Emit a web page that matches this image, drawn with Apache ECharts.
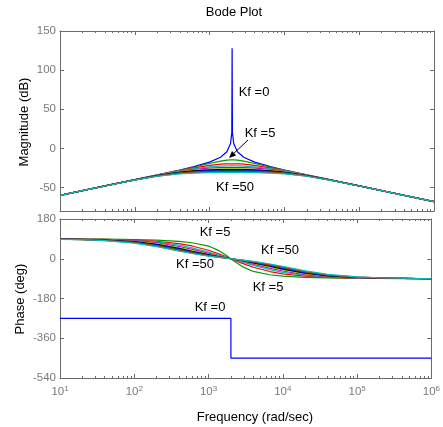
<!DOCTYPE html>
<html><head><meta charset="utf-8">
<script src="https://cdn.jsdelivr.net/npm/echarts@6/dist/echarts.min.js"></script>
<style>html,body{margin:0;padding:0;background:#fff}#c{width:443px;height:427px}</style>
</head><body><div id="c"></div>
<script>
// ---------- data ----------
const freqs = [10,20,40,100,200,400,600,1000,1400,1700,2000,2353,2857,4000,6667,10000,20000,40000,100000,200000,400000,1000000];
const freqsKf0 = [10,20,40,100,200,400,600,1000,1400,1700,1900,1980,2000,2020,2105,2353,2857,4000,6667,10000,20000,40000,100000,200000,400000,1000000];
const magKf0 = [-60,-54,-48,-40,-33.9,-27.6,-23.6,-17.5,-11.3,-4.3,5.8,19.9,128,19.9,5.8,-4.3,-11.3,-17.5,-23.6,-27.6,-33.9,-40,-48,-54,-60,-68];
const phaseFreqsKf0 = [10,2000,2000,1000000];
const phaseKf0 = [-270,-270,-450,-450];

const kfLabels = ['Kf =5','Kf =10','Kf =15','Kf =20','Kf =25','Kf =30','Kf =35','Kf =40','Kf =45','Kf =50'];
const magKf5  = [-60.0,-54.0,-48.0,-40.0,-34.0,-27.8,-24.1,-19.3,-16.2,-14.9,-14.5,-14.9,-16.2,-19.3,-24.1,-27.8,-34.0,-40.0,-48.0,-54.0,-60.0,-68.0];
const magKf10 = [-60.0,-54.0,-48.0,-40.0,-34.1,-28.3,-25.1,-21.7,-20.2,-19.7,-19.6,-19.7,-20.2,-21.7,-25.1,-28.3,-34.1,-40.0,-48.0,-54.0,-60.0,-68.0];
const magKf15 = [-60.0,-54.0,-48.0,-40.1,-34.2,-28.7,-26.0,-23.6,-22.6,-22.4,-22.3,-22.4,-22.6,-23.6,-26.0,-28.7,-34.2,-40.1,-48.0,-54.0,-60.0,-68.0];
const magKf20 = [-60.0,-54.0,-48.0,-40.1,-34.4,-29.3,-27.0,-25.2,-24.6,-24.4,-24.4,-24.4,-24.6,-25.2,-27.0,-29.3,-34.4,-40.1,-48.0,-54.0,-60.0,-68.0];
const magKf25 = [-60.0,-54.0,-48.0,-40.2,-34.5,-29.8,-27.9,-26.4,-26.0,-25.9,-25.8,-25.9,-26.0,-26.4,-27.9,-29.8,-34.5,-40.2,-48.0,-54.0,-60.0,-68.0];
const magKf30 = [-60.0,-54.0,-48.0,-40.2,-34.7,-30.4,-28.7,-27.5,-27.2,-27.1,-27.1,-27.1,-27.2,-27.5,-28.7,-30.4,-34.7,-40.2,-48.0,-54.0,-60.0,-68.0];
const magKf35 = [-60.0,-54.0,-48.0,-40.3,-34.9,-30.9,-29.5,-28.5,-28.2,-28.2,-28.2,-28.2,-28.2,-28.5,-29.5,-30.9,-34.9,-40.3,-48.0,-54.0,-60.0,-68.0];
const magKf40 = [-60.0,-54.0,-48.0,-40.3,-35.2,-31.4,-30.2,-29.4,-29.2,-29.1,-29.1,-29.1,-29.2,-29.4,-30.2,-31.4,-35.2,-40.3,-48.0,-54.0,-60.0,-68.0];
const magKf45 = [-60.0,-54.0,-48.1,-40.4,-35.4,-32.0,-30.9,-30.2,-30.1,-30.0,-30.0,-30.0,-30.1,-30.2,-30.9,-32.0,-35.4,-40.4,-48.1,-54.0,-60.0,-68.0];
const magKf50 = [-60.0,-54.0,-48.1,-40.5,-35.6,-32.5,-31.6,-31.0,-30.8,-30.8,-30.8,-30.8,-30.8,-31.0,-31.6,-32.5,-35.6,-40.5,-48.1,-54.0,-60.0,-68.0];

const phKf5  = [89.7,89.4,88.8,87.0,84.5,78.5,72.5,57.5,35.5,17.1,0,-17.1,-35.5,-57.5,-72.5,-78.5,-84.5,-87.0,-88.8,-89.4,-89.7,-90.5];
const phKf10 = [89.5,88.9,87.8,84.6,79.1,68.4,57.9,38.3,21.0,9.8,0,-9.8,-21.0,-38.3,-57.9,-68.4,-79.1,-84.6,-87.8,-88.9,-89.5,-90.5];
const phKf15 = [89.3,88.5,87.0,82.6,75.3,61.6,49.4,30.0,15.7,7.2,0,-7.2,-15.7,-30.0,-49.4,-61.6,-75.3,-82.6,-87.0,-88.5,-89.3,-90.5];
const phKf20 = [89.1,88.1,86.2,80.6,71.6,55.5,42.6,24.4,12.5,5.7,0,-5.7,-12.5,-24.4,-42.6,-55.5,-71.6,-80.6,-86.2,-88.1,-89.1,-90.5];
const phKf25 = [88.9,87.8,85.5,78.9,68.5,50.9,37.9,21.0,10.6,4.8,0,-4.8,-10.6,-21.0,-37.9,-50.9,-68.5,-78.9,-85.5,-87.8,-88.9,-90.5];
const phKf30 = [88.7,87.4,84.9,77.3,65.6,46.8,34.0,18.4,9.2,4.1,0,-4.1,-9.2,-18.4,-34.0,-46.8,-65.6,-77.3,-84.9,-87.4,-88.7,-90.5];
const phKf35 = [88.5,87.1,84.2,75.7,62.7,43.3,30.7,16.4,8.1,3.7,0,-3.7,-8.1,-16.4,-30.7,-43.3,-62.7,-75.7,-84.2,-87.1,-88.5,-90.5];
const phKf40 = [88.4,86.7,83.5,74.1,60.1,40.1,28.0,14.7,7.3,3.3,0,-3.3,-7.3,-14.7,-28.0,-40.1,-60.1,-74.1,-83.5,-86.7,-88.4,-90.5];
const phKf45 = [88.2,86.4,82.8,72.5,57.5,37.3,25.7,13.4,6.6,3.0,0,-3.0,-6.6,-13.4,-25.7,-37.3,-57.5,-72.5,-82.8,-86.4,-88.2,-90.5];
const phKf50 = [88.0,86.1,82.1,70.9,55.1,34.8,23.7,12.3,6.0,2.7,0,-2.7,-6.0,-12.3,-23.7,-34.8,-55.1,-70.9,-82.1,-86.1,-88.0,-90.5];

const magTicks = [-50,0,50,100,150];
const phaseTicks = [-540,-360,-180,0,180];
const freqMajorTicks = [10,100,1000,10000,100000,1000000];
const freqExponents = ['1','2','3','4','5','6'];
const freqMinorTicks = [20,30,40,50,60,70,80,90,200,300,400,500,600,700,800,900,
  2000,3000,4000,5000,6000,7000,8000,9000,20000,30000,40000,50000,60000,70000,80000,90000,
  200000,300000,400000,500000,600000,700000,800000,900000];

// ---------- chart ----------
const FONT = 'Liberation Sans, Arial, Helvetica, sans-serif';
const LINE = '#6a6a6a';
const LBL = '#7a7a7a';
const colors = ['#0000ff','#009a00','#ff0000','#00bfbf','#bf00bf','#bfbf00','#000000','#0000ff','#009a00','#ff0000','#00bfbf'];
const magArrs = [magKf5,magKf10,magKf15,magKf20,magKf25,magKf30,magKf35,magKf40,magKf45,magKf50];
const phArrs = [phKf5,phKf10,phKf15,phKf20,phKf25,phKf30,phKf35,phKf40,phKf45,phKf50];

function xAxes(gi, withLabels) {
  const base = {type:'log', logBase:10, gridIndex:gi, min:10, max:1000000, splitLine:{show:false}, minorTick:{show:false}};
  const line = {show:true, onZero:false, lineStyle:{color:LINE, width:1}};
  const noLine = {show:false, onZero:false};
  const major = {show:true, inside:true, length:4, customValues:freqMajorTicks, lineStyle:{color:LINE}};
  const minor = {show:true, inside:true, length:2, customValues:freqMinorTicks, lineStyle:{color:LINE}};
  const lbl = withLabels ? {
    show:true, customValues:freqMajorTicks, margin:7,
    formatter: (v) => { const i = freqMajorTicks.indexOf(v); return '{a|10}{b|' + (i >= 0 ? freqExponents[i] : '') + '}'; },
    rich:{a:{fontSize:11.5, fontFamily:FONT, color:LBL, lineHeight:14}, b:{fontSize:8, fontFamily:FONT, color:LBL, lineHeight:6, verticalAlign:'top'}}
  } : {show:false};
  return [
    Object.assign({}, base, {position:'bottom', axisLine:line, axisTick:major, axisLabel:lbl}),
    Object.assign({}, base, {position:'bottom', axisLine:noLine, axisTick:minor, axisLabel:{show:false}}),
    Object.assign({}, base, {position:'top', axisLine:line, axisTick:major, axisLabel:{show:false}}),
    Object.assign({}, base, {position:'top', axisLine:noLine, axisTick:minor, axisLabel:{show:false}})
  ];
}

function yAxes(gi, min, max, ticks) {
  const common = {type:'value', gridIndex:gi, min:min, max:max, splitLine:{show:false}};
  return [
    Object.assign({}, common, {
      position:'left',
      axisLine:{show:true, onZero:false, lineStyle:{color:LINE}},
      axisTick:{show:true, inside:true, length:4, customValues:ticks, lineStyle:{color:LINE}},
      axisLabel:{show:true, customValues:ticks, margin:4, color:LBL, fontSize:11.5, fontFamily:FONT}
    }),
    Object.assign({}, common, {
      position:'right',
      axisLine:{show:true, onZero:false, lineStyle:{color:LINE}},
      axisTick:{show:true, inside:true, length:4, customValues:ticks, lineStyle:{color:LINE}},
      axisLabel:{show:false}
    })
  ];
}

const series = [];
function addLine(xi, yi, xs, ys, color) {
  series.push({type:'line', xAxisIndex:xi, yAxisIndex:yi, data: xs.map((x, j) => [x, ys[j]]),
    showSymbol:false, symbol:'none', lineStyle:{color:color, width:1.2}, itemStyle:{color:color},
    animation:false, silent:true, clip:true});
}
addLine(0, 0, freqsKf0, magKf0, colors[0]);
magArrs.forEach((arr, i) => addLine(0, 0, freqs, arr, colors[i + 1]));
addLine(4, 2, phaseFreqsKf0, phaseKf0, colors[0]);
phArrs.forEach((arr, i) => addLine(4, 2, freqs, arr, colors[i + 1]));

function txt(x, y, s, rot) {
  return {type:'text', x:x, y:y, rotation: rot || 0, silent:true, z:100,
    style:{text:s, align:'center', verticalAlign:'middle', fontSize:13, fontFamily:FONT, fill:'#000'}};
}

const option = {
  backgroundColor:'#fff',
  animation:false,
  grid:[
    {left:60, top:31, width:374, height:180},
    {left:60, top:219, width:374, height:159}
  ],
  xAxis: xAxes(0, false).concat(xAxes(1, true)),
  yAxis: yAxes(0, -80, 150, magTicks).concat(yAxes(1, -540, 180, phaseTicks)),
  series: series,
  graphic: [
    txt(234, 12, 'Bode Plot'),
    txt(255, 417, 'Frequency (rad/sec)'),
    txt(24, 122, 'Magnitude (dB)', Math.PI / 2),
    txt(20, 299, 'Phase (deg)', Math.PI / 2),
    txt(254, 92, 'Kf =0'),
    txt(260, 133, 'Kf =5'),
    txt(235, 187, 'Kf =50'),
    txt(215, 232, 'Kf =5'),
    txt(280, 250, 'Kf =50'),
    txt(195, 264, 'Kf =50'),
    txt(268, 287, 'Kf =5'),
    txt(210, 307, 'Kf =0'),
    {type:'polyline', silent:true, z:100, shape:{points:[[248,140],[234,153.2]]}, style:{stroke:'#000', lineWidth:1}},
    {type:'polygon', silent:true, z:100, shape:{points:[[229,158],[236.1,155.4],[232.0,151.0]]}, style:{fill:'#000'}}
  ]
};
const chart = echarts.init(document.getElementById('c'), null, {renderer:'canvas'});
chart.setOption(option);
</script>
</body></html>
